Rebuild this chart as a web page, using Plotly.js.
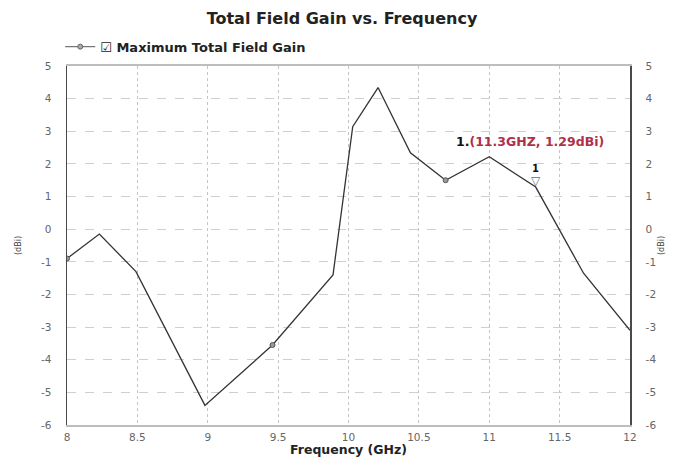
<!DOCTYPE html>
<html>
<head>
<meta charset="utf-8">
<script src="https://cdn.plot.ly/plotly-3.0.1.min.js"></script>
<style>html,body{margin:0;padding:0;background:#fff;}#chart{width:684px;height:457px;}</style>
</head>
<body>
<div id="chart"></div>
<script>
// Data
const freqGHz = [8, 8.23, 8.49, 8.98, 9.46, 9.89, 10.03, 10.21, 10.44, 10.69, 11.0, 11.33, 11.67, 12];
const gainDBi = [-0.9, -0.15, -1.3, -5.4, -3.55, -1.4, 3.14, 4.34, 2.34, 1.5, 2.22, 1.29, -1.35, -3.1];
const circleIdx = [0, 4, 9];
const markerIdx = 11;
const markerLabel = "1.(11.3GHZ, 1.29dBi)";
const xTicks = [8, 8.5, 9, 9.5, 10, 10.5, 11, 11.5, 12];
const yTicks = [-6, -5, -4, -3, -2, -1, 0, 1, 2, 3, 4, 5];

const BOLD = "DejaVu Sans, Verdana, sans-serif";
const TICK = "DejaVu Sans, Verdana, sans-serif";

const traces = [
  {
    x: freqGHz, y: gainDBi, type: 'scatter', mode: 'lines',
    line: {color: '#333', width: 1.3},
    showlegend: false, hoverinfo: 'skip'
  },
  {
    x: circleIdx.map(i => freqGHz[i]), y: circleIdx.map(i => gainDBi[i]),
    type: 'scatter', mode: 'markers',
    marker: {symbol: 'circle', size: 5, color: '#999', line: {color: '#555', width: 1}},
    showlegend: false, hoverinfo: 'skip'
  },
  {
    // legend entry
    x: [null], y: [null], type: 'scatter', mode: 'lines+markers',
    line: {color: '#777', width: 1.3},
    marker: {symbol: 'circle', size: 5, color: '#aaa', line: {color: '#666', width: 1}},
    name: '<b>\u2611 Maximum Total Field Gain</b>', showlegend: true
  },
  {
    // invisible trace for right axis
    x: freqGHz, y: gainDBi, yaxis: 'y2', type: 'scatter', mode: 'lines',
    line: {width: 0}, opacity: 0, showlegend: false, hoverinfo: 'skip'
  }
];

const layout = {
  width: 684, height: 457,
  margin: {l: 67, r: 54, t: 66, b: 32},
  paper_bgcolor: '#fff', plot_bgcolor: '#fff',
  font: {family: TICK, size: 10, color: '#555'},
  title: {text: '<b>Total Field Gain vs. Frequency</b>', font: {family: BOLD, size: 16, color: '#222'},
          x: 0.5, xanchor: 'center', y: 0.972, yanchor: 'top'},
  showlegend: true,
  legend: {x: -0.012, xanchor: 'left', y: 1.012, yanchor: 'bottom', orientation: 'h',
           font: {family: BOLD, size: 13, color: '#222'}, bgcolor: 'rgba(0,0,0,0)'},
  xaxis: {
    range: [8, 12], tickvals: xTicks, ticktext: xTicks.map(String),
    showgrid: true, gridcolor: '#c4c4c4', griddash: 'dot', gridwidth: 1,
    showline: true, linecolor: '#bdbdbd', linewidth: 2, mirror: true,
    zeroline: false, ticks: '', ticklabelstandoff: 1,
    tickfont: {family: TICK, size: 10.5, color: '#666'},
    title: {text: '<b>Frequency (GHz)</b>', font: {family: BOLD, size: 12.5, color: '#222'}, standoff: 0}
  },
  yaxis: {
    range: [-6, 5], tickvals: yTicks, ticktext: yTicks.map(String),
    showgrid: true, gridcolor: '#cfcfcf', griddash: 'dash', gridwidth: 1,
    showline: true, linecolor: '#4a4a4a', linewidth: 1.5, mirror: false,
    zeroline: false, ticks: '', ticklabelstandoff: 12,
    tickfont: {family: TICK, size: 10.5, color: '#666'}
  },
  yaxis2: {
    range: [-6, 5], tickvals: yTicks, ticktext: yTicks.map(String),
    overlaying: 'y', side: 'right', showgrid: false,
    showline: true, linecolor: '#4a4a4a', linewidth: 1.5,
    zeroline: false, ticks: '', ticklabelstandoff: 12,
    tickfont: {family: TICK, size: 10.5, color: '#666'}
  },
  annotations: [
    {xref: 'paper', yref: 'paper', x: 0, y: 0.5, xshift: -55, text: '(dBi)', textangle: -90,
     showarrow: false, font: {family: TICK, size: 8, color: '#444'}},
    {xref: 'paper', yref: 'paper', x: 1, y: 0.5, xshift: 38, text: '(dBi)', textangle: -90,
     showarrow: false, font: {family: TICK, size: 8, color: '#444'}},
    {x: freqGHz[markerIdx], y: gainDBi[markerIdx], text: '\u25BD', showarrow: false,
     yanchor: 'bottom', yshift: -3, font: {family: 'DejaVu Sans', size: 12, color: '#5a6a8a'}},
    {x: freqGHz[markerIdx], y: gainDBi[markerIdx], text: '<b>1</b>', showarrow: false,
     yanchor: 'bottom', yshift: 11, font: {family: BOLD, size: 10, color: '#111'}},
    {x: freqGHz[markerIdx], y: gainDBi[markerIdx], text: '<b>1.</b><b style="color:#b0304a">' + markerLabel.slice(2) + '</b>',
     showarrow: false, xanchor: 'center', xshift: -6, yshift: 46,
     font: {family: BOLD, size: 12.5, color: '#111'}}
  ]
};

Plotly.newPlot('chart', traces, layout, {displayModeBar: false, staticPlot: true});
</script>
</body>
</html>
